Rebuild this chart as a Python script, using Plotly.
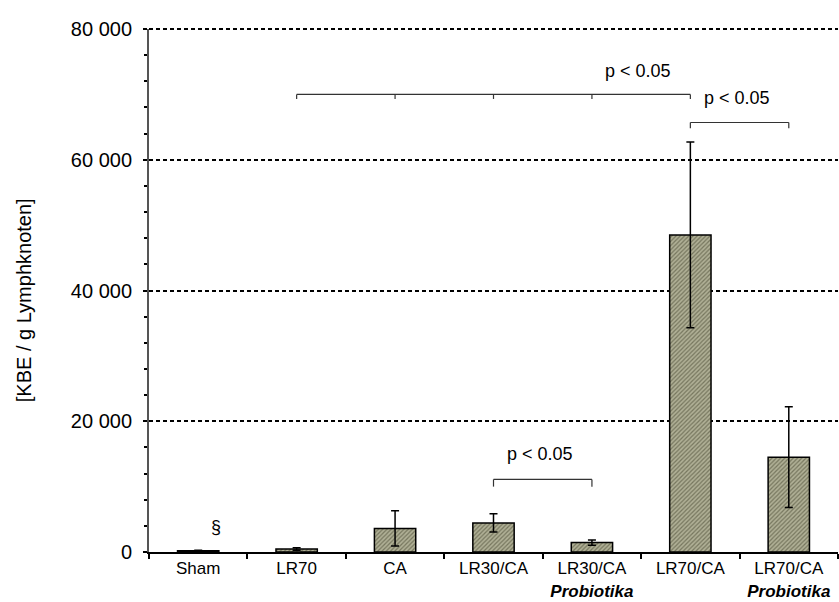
import plotly.graph_objects as go

# ---- data ----
categories = ["Sham", "LR70", "CA", "LR30/CA",
              "LR30/CA<br><b><i>Probiotika</i></b>", "LR70/CA",
              "LR70/CA<br><b><i>Probiotika</i></b>"]
means = [200, 450, 3600, 4450, 1450, 48500, 14500]
errors = [80, 200, 2700, 1400, 400, 14200, 7700]

# significance brackets: (start index, end index, level, drop, tick indices)
brackets = [
    (1, 5, 70000, 700, [1, 2, 3, 4, 5]),
    (5, 6, 65700, 900, [5, 6]),
    (3, 4, 11100, 1100, [3, 4]),
]
# labels: (x index position, y value, text)
sig_labels = [
    (4.47, 73600, "p < 0.05"),
    (5.47, 69400, "p < 0.05"),
    (3.47, 15000, "p < 0.05"),
    (0.18, 3800, "§"),
]
y_max = 80000

FONT = "Liberation Sans, Arial, sans-serif"
GRID_DASH = "4px,3px"

fig = go.Figure()
fig.add_trace(go.Bar(
    x=categories, y=means, width=0.42,
    marker=dict(
        color="#a9a98c",
        line=dict(color="black", width=1.5),
        pattern=dict(shape="/", fgcolor="#76765e", bgcolor="#b0b096",
                     size=3, solidity=0.4, fillmode="replace"),
    ),
    error_y=dict(type="data", array=errors, visible=True,
                 color="black", thickness=1.5, width=4),
    showlegend=False,
))

shapes = []
# top gridline at the top of the y range (Plotly omits grid at the range edge);
# paper coordinates so that it is not clipped by the plot area
shapes.append(dict(type="line", xref="paper", yref="paper", x0=0, x1=1,
                   y0=1, y1=1,
                   line=dict(color="black", width=2, dash=GRID_DASH)))
for x0, x1, lvl, drop, ticks in brackets:
    shapes.append(dict(type="line", xref="x", yref="y", x0=x0, x1=x1,
                       y0=lvl, y1=lvl, line=dict(color="#333", width=1.2)))
    for t in ticks:
        shapes.append(dict(type="line", xref="x", yref="y", x0=t, x1=t,
                           y0=lvl, y1=lvl - drop,
                           line=dict(color="#333", width=1.2)))

annotations = []
for xv, yv, txt in sig_labels:
    annotations.append(dict(x=xv, y=yv, xref="x", yref="y", text=txt,
                            showarrow=False, xanchor="center", yanchor="middle",
                            font=dict(family=FONT, size=18, color="black")))
annotations.append(dict(x=-0.181, y=0.482, xref="paper", yref="paper",
                        text="[KBE / g Lymphknoten]", textangle=-90,
                        showarrow=False, xanchor="center", yanchor="middle",
                        font=dict(family=FONT, size=20, color="black")))

fig.update_layout(
    width=839, height=602,
    margin=dict(l=149, r=1, t=29, b=50),
    paper_bgcolor="white", plot_bgcolor="white",
    separators=". ",
    font=dict(family=FONT, color="black"),
    shapes=shapes, annotations=annotations,
)
fig.update_xaxes(
    type="category", range=[-0.5, 6.5],
    showline=True, linecolor="black", linewidth=2,
    ticks="outside", tickson="boundaries", ticklen=5, tickcolor="black",
    tickwidth=1.5,
    showgrid=False, zeroline=False, automargin=False,
    tickfont=dict(family=FONT, size=17, color="black"),
)
fig.update_yaxes(
    range=[0, y_max], dtick=20000, tickformat=",",
    showline=True, linecolor="#555", linewidth=2,
    ticks="outside", ticklen=4, tickcolor="black", tickwidth=1.5,
    ticklabelstandoff=7,
    showgrid=True, gridcolor="black", gridwidth=2, griddash=GRID_DASH,
    zeroline=False, automargin=False,
    minor=dict(dtick=4000, ticks="outside", ticklen=3, tickcolor="black",
               tickwidth=1.5, showgrid=False),
    tickfont=dict(family=FONT, size=20, color="black"),
)

fig.write_html("out.html")
